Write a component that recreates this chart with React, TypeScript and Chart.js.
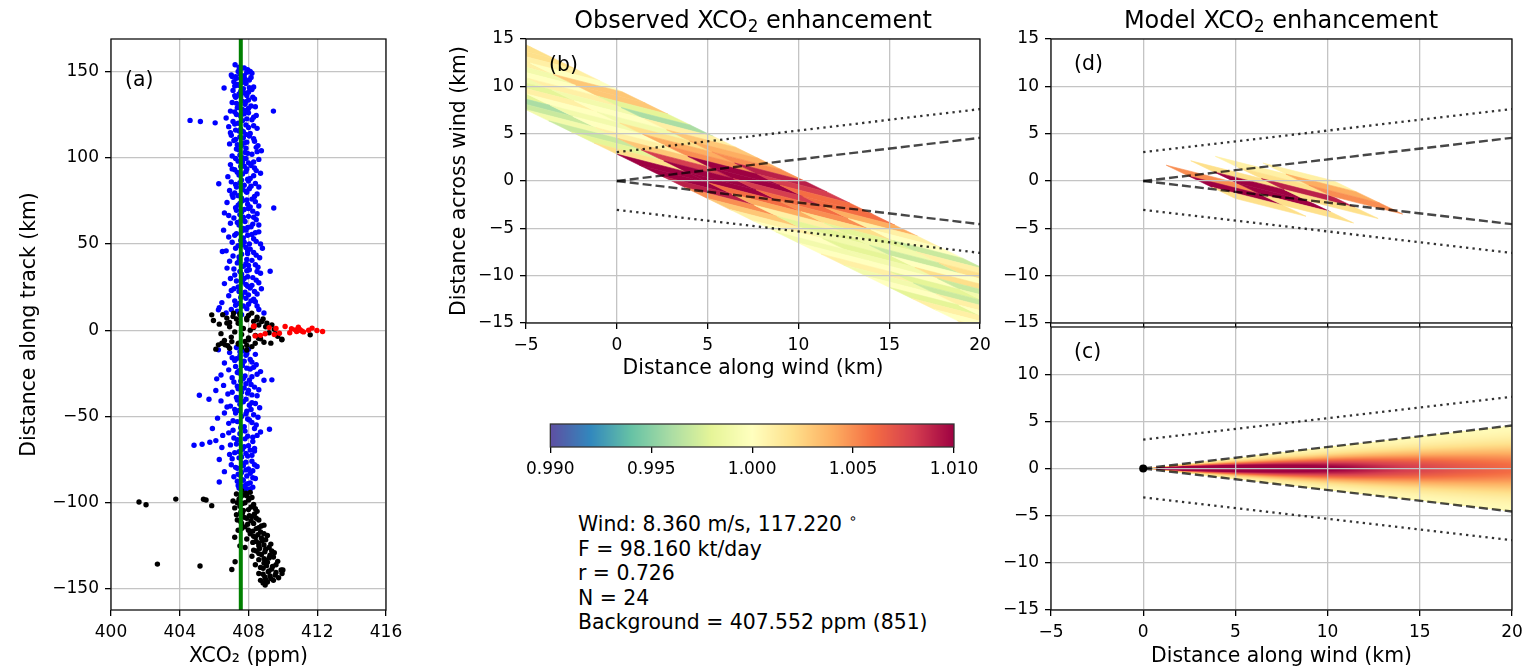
import React, { useEffect, useRef } from "react";
import { Chart, registerables } from "chart.js";

Chart.register(...registerables);

const FONT = "'DejaVu Sans', 'Liberation Sans', sans-serif";
Chart.defaults.font.family = FONT;
Chart.defaults.color = "#000";

// ---------------- Panel (a): XCO2 along track ----------------
const A_X_MIN = 400;
const A_X_MAX = 416;
const A_Y_MIN = -162.2;
const A_Y_MAX = 168.8;
const A_X_TICKS = [400, 404, 408, 412, 416];
const A_Y_TICKS = [-150, -100, -50, 0, 50, 100, 150];
const BACKGROUND_XCO2 = 407.552;

// [XCO2 (ppm), distance along track (km)]
const BLUE_PTS: [number, number][] = [
  [407.22, 153.9], [407.6, 152], [407.95, 151], [407.4, 150], [408.2, 149], [407.0, 148], [407.75, 147.5], [407.3, 146],
  [407.55, 146], [408.05, 145], [407.15, 144], [407.85, 143], [407.4, 142], [408.3, 141], [406.58, 140.4], [407.7, 140],
  [407.1, 139], [408.0, 138], [407.45, 137], [407.9, 136], [407.25, 135], [408.35, 134], [407.6, 133], [407.05, 132],
  [407.8, 131], [408.15, 130], [407.35, 129], [407.65, 128], [409.45, 127], [406.95, 127], [408.0, 126], [407.3, 125],
  [407.55, 124], [406.7, 123], [408.2, 122], [404.6, 121.6], [405.2, 121], [406.06, 120.2], [407.4, 120], [407.85, 119],
  [406.85, 118], [408.5, 117], [407.25, 116], [407.7, 115], [408.1, 114], [407.0, 113], [407.5, 112], [408.3, 111],
  [407.15, 110], [407.9, 109], [406.9, 108], [407.6, 107], [408.45, 106], [407.3, 105], [408.75, 104], [407.8, 103],
  [408.2, 102], [407.05, 101], [407.65, 100], [408.6, 99], [407.4, 98], [408.0, 97], [406.95, 96], [407.55, 95],
  [408.35, 94], [407.2, 93], [407.85, 92], [408.7, 91], [407.45, 90], [406.8, 89], [408.1, 88], [407.6, 87],
  [407.0, 86], [406.27, 84.9], [408.4, 85], [407.75, 84], [407.3, 83], [408.05, 82], [406.9, 81], [407.9, 80],
  [408.5, 79], [407.4, 78], [407.1, 77], [408.2, 76], [407.65, 75], [406.75, 74], [407.95, 73], [408.6, 72],
  [407.25, 71], [409.47, 70.8], [407.75, 70], [408.25, 69], [406.6, 68], [407.5, 67], [408.0, 66], [407.15, 65],
  [408.45, 64], [407.8, 63], [406.95, 62], [407.45, 61], [408.15, 60], [407.7, 59], [406.55, 58], [408.6, 57],
  [407.3, 56], [407.95, 55], [406.85, 54], [408.3, 53], [407.55, 52], [407.05, 51], [408.05, 50], [407.4, 49],
  [408.81, 47.5], [407.85, 48], [406.7, 46], [406.48, 45.6], [408.3, 45], [407.6, 44], [407.1, 43], [408.65, 42],
  [407.9, 41], [406.9, 40], [407.35, 39], [408.4, 38], [407.7, 37], [406.75, 36], [408.05, 35], [409.26, 34.2],
  [407.5, 34], [408.7, 33], [407.2, 32], [407.95, 31], [406.95, 30], [408.45, 29], [407.65, 28], [406.6, 27],
  [408.2, 26], [407.4, 25], [408.75, 24], [407.0, 23], [407.8, 22], [408.5, 21], [406.85, 20], [407.55, 19],
  [408.3, 18], [407.2, 17], [406.45, 16], [408.0, 15], [407.7, 14], [406.3, 13], [408.6, 12], [407.35, 11],
  [406.25, 11.8], [406.7, 10], [408.9, 10], [407.6, 9],
  [407.75, 152], [408.1, 150], [407.5, 148.5], [407.05, 147], [407.8, 145.5], [407.6, 143.5], [407.2, 141.5], [408.2, 139.5],
  [407.75, 137.5], [407.55, 135.5], [408.0, 133.5], [407.3, 131.5], [408.4, 129.5], [407.9, 127.5], [407.75, 125.5], [408.3, 123.5],
  [407.65, 121.5], [407.2, 119.5], [408.0, 117.5], [407.45, 115.5], [407.85, 113.5], [407.7, 111.5], [408.35, 109.5], [407.35, 107.5],
  [407.85, 105.5], [408.5, 103.5], [407.5, 101.5], [407.85, 99.5], [407.65, 97.5], [408.15, 95.5], [407.9, 93.5], [407.35, 91.5],
  [408.3, 89.5], [407.95, 87.5], [407.5, 85.5], [408.15, 83.5], [407.65, 81.5], [407.2, 79.5], [408.35, 77.5], [407.9, 75.5],
  [407.5, 73.5], [408.1, 71.5], [407.3, 69.5], [408.5, 67.5], [407.7, 65.5], [407.55, 63.5], [408.25, 61.5], [407.95, 59.5],
  [407.6, 57.5], [408.2, 55.5], [407.7, 53.5], [408.45, 51.5], [407.65, 49.5], [408.1, 47], [407.95, 44.5], [407.45, 42.5],
  [408.2, 40.5], [407.85, 38.5], [408.55, 36.5], [407.9, 34.5], [407.6, 32.5], [408.25, 30.5], [407.3, 28.5], [407.85, 26.5],
  [408.1, 24.5], [407.45, 22.5], [408.0, 20.5], [407.85, 18.5], [408.4, 16.5], [407.25, 14.5],
  [407.45, 152.5], [407.9, 149.5], [407.25, 147], [408.15, 146.5], [407.65, 144.5], [407.35, 142.5], [408.05, 140.5], [407.55, 138.5],
  [407.2, 136], [408.25, 135], [407.85, 132.5], [407.45, 130.5], [408.0, 128.5], [407.2, 126.5], [408.45, 124.5], [407.9, 122.5],
  [407.1, 121], [408.3, 118.5], [407.55, 116.5], [406.95, 114.5], [408.05, 112.5], [407.25, 110.5], [407.75, 108.5], [408.55, 107],
  [407.45, 104.5], [407.95, 102.5], [407.25, 99.5], [408.3, 97.5], [407.75, 95], [407.05, 93.5], [408.45, 92.5], [407.65, 90.5],
  [408.0, 86.5], [407.25, 84.5], [408.6, 83], [407.85, 80.5], [407.05, 78.5], [407.6, 76.5], [408.4, 74.5], [407.4, 72.5],
  [408.0, 70.5], [407.6, 68.5], [406.85, 66.5], [408.3, 65.5], [407.35, 62.5], [408.6, 61], [407.85, 58], [407.2, 55],
  [408.4, 56.5], [407.75, 51], [408.7, 50], [407.25, 47.5], [407.95, 46], [408.45, 43.5], [407.45, 40], [408.0, 37.5],
  [407.15, 35.5], [408.5, 34], [407.75, 30], [408.6, 27.5], [407.95, 25.5], [407.15, 24], [408.35, 22.5], [407.6, 20],
  [408.15, 17], [407.45, 15.5], [408.5, 14], [407.9, 12.5], [407.0, 12],
  [407.3, -10], [406.25, -11.4], [408.0, -11], [407.7, -12], [406.9, -13], [408.4, -14], [407.5, -15], [407.05, -16],
  [408.1, -17], [407.75, -18], [406.6, -19], [408.45, -20], [407.25, -21], [407.9, -22], [406.85, -23], [408.7, -24],
  [407.5, -25], [406.4, -26], [408.2, -27], [406.15, -28.2], [409.36, -28.8], [407.7, -28], [408.9, -29], [407.15, -30],
  [407.85, -31], [406.55, -32], [408.35, -33], [407.4, -34], [406.1, -35], [408.0, -35], [407.6, -36], [405.14, -37.7],
  [406.8, -37], [408.5, -38], [407.3, -39], [405.7, -40], [407.85, -40], [406.4, -41], [408.2, -42], [407.5, -43],
  [406.95, -44], [408.65, -45], [407.2, -46], [407.9, -47], [406.6, -48], [408.3, -49], [407.6, -50], [406.2, -51],
  [408.05, -52], [407.35, -53], [406.85, -54], [408.45, -55], [407.75, -56], [409.22, -57.4], [405.9, -57], [407.1, -58],
  [408.7, -59], [407.5, -60], [406.5, -61], [408.25, -62], [407.8, -63], [406.1, -64], [405.75, -65], [405.3, -66.1],
  [404.83, -66.7], [407.3, -66], [408.0, -67], [406.45, -68], [407.65, -69], [408.35, -70], [407.2, -71], [406.9, -72],
  [407.95, -73], [407.45, -74], [406.3, -75], [408.2, -76], [407.6, -77], [407.0, -78], [408.5, -79], [407.35, -80],
  [407.85, -81], [406.6, -82], [408.1, -83], [407.5, -84], [407.15, -85], [408.4, -86], [407.7, -87], [406.3, -88],
  [407.95, -89], [407.4, -90], [408.25, -91], [407.85, -92], [407.6, -93],
  [407.5, -12.5], [407.85, -14.5], [407.3, -16.5], [408.2, -18.5], [407.65, -20.5], [408.1, -22.5], [407.35, -24.5], [407.8, -26.5],
  [407.55, -29.5], [408.15, -31.5], [407.75, -33.5], [407.95, -36.5], [407.55, -38.5], [407.7, -41.5], [408.05, -43.5], [407.45, -46.5],
  [407.85, -48.5], [407.95, -51.5], [408.2, -53.5], [407.55, -56.5], [407.8, -58.5], [407.95, -61.5], [407.35, -63.5], [407.75, -67.5],
  [408.1, -69.5], [407.85, -71.5], [407.6, -73.5], [407.85, -76.5], [407.7, -78.5], [408.0, -80.5], [407.6, -82.5], [407.9, -84.5],
  [407.6, -86.5], [408.1, -88.5], [407.75, -90.5],
  [407.9, -13.5], [407.2, -17.5], [408.3, -21.5], [407.45, -23.5], [408.5, -25.5], [407.05, -27.5], [408.05, -29], [407.35, -32.5],
  [408.6, -34.5], [407.05, -36], [408.2, -37.5], [407.35, -40.5], [408.4, -42.5], [406.75, -44.5], [408.15, -46], [407.25, -48],
  [408.55, -50.5], [407.1, -52.5], [408.35, -57], [406.85, -59.5], [408.5, -61], [407.15, -62.5], [408.25, -64.5], [406.95, -66.5],
  [408.35, -68.5], [407.45, -70.5], [408.2, -72.5], [407.05, -74.5], [408.35, -78], [407.25, -79.5], [408.25, -81.5], [407.4, -83.5],
  [408.25, -85.5], [407.35, -87.5], [407.85, -89.5], [408.1, -92], [407.45, -91.5],
];

const BLACK_PTS: [number, number][] = [
  [405.86, 8.9], [405.96, 5.6], [406.74, 7.0], [407.13, 9.9], [406.74, 4.1], [407.51, 8.9], [407.9, 7.0], [408.19, 9.9],
  [408.48, 6.0], [408.77, 5.0], [409.07, 4.1], [409.36, 3.1], [406.5, 9], [407.1, 8], [407.9, 6], [408.3, 5], [407.4, 4],
  [408.6, 3], [409.0, 2], [406.9, 2], [407.7, 1], [409.5, 0.5], [408.1, 0], [407.2, -1], [409.2, -1.5], [406.4, -2],
  [411.59, -2.7], [408.4, -3], [409.7, -3.5], [407.0, -4], [409.94, -5.2], [408.7, -5], [406.6, -6], [407.8, -6.5],
  [408.9, -7], [406.45, -7.6], [406.64, -8.5], [407.03, -6.6], [407.42, -7.6], [408.0, -5.6], [408.39, -7.6], [408.58, -4.7],
  [409.94, -5.6], [406.25, -8.5], [407.4, -8], [406.8, -9], [408.2, -9.5], [407.6, -10], [406.1, -11], [406.3, 3.5],
  [408.85, 6.5], [406.9, 4.5], [408.3, 1.5], [407.6, -2.5], [408.0, -4.5], [409.3, -7.5], [407.9, -11.5], [407.5, 9.5],
  [408.0, 8.5], [407.3, 6.5], [408.5, 7.5], [409.6, -2.2], [407.9, -8.8], [406.9, -10.5],
  [401.63, -99.6], [402.04, -101.2], [403.77, -97.9], [405.38, -98], [405.53, -98.4], [405.86, -101.7], [402.7, -135.6],
  [405.18, -136.7], [407.03, -138.7], [407.22, -134.2],
  [407.6, -93], [408.1, -94], [407.3, -95], [407.9, -96], [408.2, -97], [407.45, -98], [407.1, -99], [407.8, -100],
  [408.3, -101], [407.5, -102], [407.2, -103], [408.0, -104], [408.5, -105], [407.65, -106], [407.3, -107], [408.2, -108],
  [407.9, -109], [408.6, -110], [407.55, -111], [408.3, -112], [408.9, -113], [407.8, -114], [408.45, -115], [407.4, -116],
  [408.7, -117], [408.1, -118], [409.1, -119], [408.4, -120], [407.9, -121], [408.8, -122], [408.25, -123], [409.3, -124],
  [408.6, -125], [407.8, -126], [409.0, -127], [408.45, -128], [409.5, -129], [408.75, -130], [408.2, -131], [409.2, -132],
  [408.6, -133], [409.7, -134], [408.9, -135], [408.4, -136], [409.4, -137], [408.85, -138], [409.9, -139], [409.15, -140],
  [408.6, -141], [409.55, -142], [408.95, -143], [409.3, -144], [408.7, -145], [409.1, -146], [408.97, -147.7], [407.5, -125],
  [407.2, -120], [407.6, -115], [407.35, -110],
  [407.85, -94.5], [407.55, -96.5], [408.0, -98.5], [407.65, -100.5], [408.15, -102.5], [407.7, -104.5], [408.35, -106.5],
  [407.75, -108.5], [408.15, -110.5], [407.95, -112.5], [408.6, -114.5], [408.25, -116.5], [408.55, -118.5], [408.75, -120.5],
  [408.45, -122.5], [408.9, -124.5], [408.65, -126.5], [408.95, -128.5], [409.25, -130.5], [408.9, -132.5], [409.1, -134.5],
  [409.05, -136.5], [409.35, -138.5], [409.6, -140.5], [409.25, -142.5], [409.0, -144.5], [410.0, -139], [409.95, -141],
  [407.7, -95.5], [408.05, -97.5], [407.35, -100], [408.4, -103.5], [407.55, -105.5], [408.05, -107.5], [408.45, -109],
  [407.6, -112], [408.75, -113.5], [408.0, -116], [408.9, -118], [408.3, -119.5], [409.0, -121.5], [408.6, -123.5],
  [409.2, -126], [408.3, -127.5], [409.35, -128], [408.6, -129.5], [409.45, -131.5], [409.0, -133.5], [408.7, -137.5],
  [409.6, -136], [409.2, -139.5], [408.85, -141.5], [409.75, -143.5], [409.45, -145], [408.85, -146.5],
];

const RED_PTS: [number, number][] = [
  [408.33, 2.5], [408.29, 2.1], [410.13, 2.1], [409.2, 1.5], [409.6, 1], [410.5, 0.8], [410.72, 0.2], [410.95, 0.5],
  [411.98, -0.2], [412.31, -0.8], [410.8, -0.8], [411.1, -0.5], [411.5, 0], [411.7, 1.2], [410.4, -1.5], [408.97, -2.1],
  [408.39, -3.3], [409.5, -2.5], [409.8, -1.8], [408.7, -3], [410.9, 1.8], [410.85, -0.3], [411.0, 0.3], [411.2, -1],
];

// ---------------- Panels (b), (c), (d): wind-rotated frame ----------------
const W_X_MIN = -5;
const W_X_MAX = 20;
const W_Y_MIN = -15;
const W_Y_MAX = 15;
const W_X_TICKS = [-5, 0, 5, 10, 15, 20];
const W_Y_TICKS = [-15, -10, -5, 0, 5, 10, 15];
const W_Y_TICKS_LOWER = [-15, -10, -5, 0, 5, 10];
const PLUME_END_X = 20;
const PLUME_HALF_SLOPE = 0.228; // dashed cone half-width per km
const OUTER_OFFSET = 3.05; // dotted lines offset at source (km)
const OUTER_SLOPE = 0.2275;

// Sounding footprint lattice (row = along track, col = across track)
const LATTICE_X0 = -21.25;
const LATTICE_Y0 = 22.7725;
const ROW_STEP_X = 1.25;
const ROW_STEP_Y = -1.1725;
const COL_STEP_X = 3.83;
const COL_STEP_Y = -1.877;

// Observed enhancement per footprint, in units of 0.001 (ratio - 1) * 1000
const OBS_ENH: number[][] = [
  [0, 0, 1, 2], [0, 0, 1, 2], [0, 0, 1, 2], [0, 1, 2, 1], [0, 0, 1, 0], [0, 0, -1, 3], [-1, 1, 0, 3],
  [-3, -1, 1, -2], [-2, -2, -1, -4], [0, 1, 0, 1], [-2, 0, -1, 3], [-4, -1, 2, 4], [-3, 0, 4, 5],
  [-1, 1, 5, 9], [-3, 3, 10, 8], [-2, 8, 10, 6], [2, 10, 8, 6], [10, 10, 6, 4], [11, 6, 5, 1],
  [9, 4, 2, 0], [5, 1, -2, -3], [3, -2, -1, 1], [1, -1, -3, 2], [0, -2, 0, 0], [-1, -1, 2, -1],
  [0, 0, -3, 0], [1, -2, -1, 0], [-1, -3, 0, 0], [0, 1, 0, 0], [-2, 0, 0, 0], [1, 0, 0, 0],
  [0, 0, 0, 0], [1, 0, 0, 0],
];

// Model enhancement at the in-plume footprints
const MODEL_ROW = [18, 19, 20, 16, 17, 18, 19, 14, 15, 16, 17, 13, 14, 15];
const MODEL_COL = [0, 0, 0, 1, 1, 1, 1, 2, 2, 2, 2, 3, 3, 3];
const MODEL_ENH = [5, 10, 2, 2, 10, 10, 2, 1, 2, 9, 2, 1, 4, 5];

// Model plume (c): centreline enhancement (×0.001) and cross-plume profile
const PLUME_X = [0, 0.5, 1, 2, 3, 4, 5, 6, 7, 8, 9, 10, 11, 12, 13, 14, 15, 16, 17, 18, 19, 20];
const PLUME_CENTER = [30, 30, 25, 20, 17, 15, 14, 13, 12.3, 11.6, 11, 10.5, 10, 9.4, 8.8, 8.3, 7.9, 7.5, 7.1, 6.8, 6.5, 6.2];
const PROFILE_U = [0, 0.1, 0.2, 0.3, 0.4, 0.5, 0.6, 0.7, 0.8, 0.9, 1.0];
const PROFILE_SHAPE = [1, 0.96, 0.86, 0.72, 0.56, 0.41, 0.28, 0.18, 0.11, 0.06, 0.035];

// Colour bar
const CBAR_MIN = 0.99;
const CBAR_MAX = 1.01;
const CBAR_TICKS = [0.99, 0.995, 1.0, 1.005, 1.01];
const SPECTRAL_R = ["#5e4fa2", "#3288bd", "#66c2a5", "#abdda4", "#e6f598", "#ffffbf", "#fee08b", "#fdae61", "#f46d43", "#d53e4f", "#9e0142"];

const INFO_LINES = [
  "Wind: 8.360 m/s, 117.220",
  "F = 98.160 kt/day",
  "r = 0.726",
  "N = 24",
  "Background = 407.552 ppm (851)",
];

// ---------------- helpers ----------------
const CMAP_RGB = SPECTRAL_R.map((h) => [parseInt(h.slice(1, 3), 16), parseInt(h.slice(3, 5), 16), parseInt(h.slice(5, 7), 16)]);
function cmap(ratio: number): [number, number, number] {
  let t = (ratio - CBAR_MIN) / (CBAR_MAX - CBAR_MIN);
  t = Math.max(0, Math.min(1, t));
  const s = t * (CMAP_RGB.length - 1);
  const k = Math.min(CMAP_RGB.length - 2, Math.floor(s));
  const f = s - k;
  const a = CMAP_RGB[k], b = CMAP_RGB[k + 1];
  return [a[0] + (b[0] - a[0]) * f, a[1] + (b[1] - a[1]) * f, a[2] + (b[2] - a[2]) * f];
}
function rgb(c: [number, number, number]) {
  return `rgb(${Math.round(c[0])},${Math.round(c[1])},${Math.round(c[2])})`;
}
function interp(xs: number[], ys: number[], x: number) {
  if (x <= xs[0]) return ys[0];
  for (let i = 1; i < xs.length; i++) {
    if (x <= xs[i]) {
      const f = (x - xs[i - 1]) / (xs[i] - xs[i - 1]);
      return ys[i - 1] + (ys[i] - ys[i - 1]) * f;
    }
  }
  return ys[ys.length - 1];
}
const fmtMinus = (v: number) => (v < 0 ? "\u2212" : "") + String(Math.abs(v));

const GRID_COLOR = "#c4c4c4";

function axis(o: {
  min: number; max: number; ticks: number[]; size: (s: any) => void; labels?: boolean;
  title?: string; titlePad?: any; fmt?: (v: number) => string; onArea?: boolean;
}) {
  return {
    type: "linear",
    min: o.min,
    max: o.max,
    afterBuildTicks: (s: any) => { s.ticks = o.ticks.map((v) => ({ value: v })); },
    afterFit: o.size,
    ticks: {
      display: o.labels !== false,
      font: { size: 17, family: FONT },
      color: "#000",
      padding: 6,
      maxRotation: 0,
      minRotation: 0,
      autoSkip: false,
      callback: (v: any) => (o.fmt || fmtMinus)(Number(v)),
    },
    grid: {
      color: GRID_COLOR, lineWidth: 1.3, drawTicks: true, tickLength: 6, tickColor: "#000", tickWidth: 1.3,
      drawOnChartArea: o.onArea !== false,
    },
    border: { display: false },
    title: o.title
      ? { display: true, text: o.title, color: "#000", font: { size: 20.4, family: FONT }, padding: o.titlePad }
      : { display: false },
  };
}

function framePlugin(letter: string, dx: number, dy: number, under?: (chart: any) => void, boxColor = "#111") {
  return {
    id: "frame",
    beforeDraw(chart: any) {
      if (under) under(chart);
    },
    afterDraw(chart: any) {
      const { ctx, chartArea: ca } = chart;
      ctx.save();
      ctx.strokeStyle = boxColor;
      ctx.lineWidth = 1.3;
      ctx.strokeRect(ca.left, ca.top, ca.right - ca.left, ca.bottom - ca.top);
      if (letter) {
        ctx.fillStyle = "#000";
        ctx.font = `20.4px ${FONT}`;
        ctx.textAlign = "left";
        ctx.textBaseline = "alphabetic";
        ctx.fillText(letter, ca.left + dx, ca.top + dy);
      }
      ctx.restore();
    },
  };
}

function drawCells(chart: any, cells: { i: number; j: number; v: number }[]) {
  const { ctx, chartArea: ca, scales } = chart;
  const xs = scales.x, ys = scales.y;
  ctx.save();
  ctx.beginPath();
  ctx.rect(ca.left, ca.top, ca.right - ca.left, ca.bottom - ca.top);
  ctx.clip();
  ctx.lineJoin = "round";
  ctx.lineWidth = 0.6;
  for (const c of cells) {
    const qx = LATTICE_X0 + c.i * ROW_STEP_X + c.j * COL_STEP_X;
    const qy = LATTICE_Y0 + c.i * ROW_STEP_Y + c.j * COL_STEP_Y;
    const pts = [
      [qx, qy],
      [qx + ROW_STEP_X, qy + ROW_STEP_Y],
      [qx + ROW_STEP_X + COL_STEP_X, qy + ROW_STEP_Y + COL_STEP_Y],
      [qx + COL_STEP_X, qy + COL_STEP_Y],
    ];
    const col = rgb(cmap(1 + c.v / 1000));
    ctx.fillStyle = col;
    ctx.strokeStyle = col;
    ctx.beginPath();
    pts.forEach(([x, y], k) => {
      const px = xs.getPixelForValue(x), py = ys.getPixelForValue(y);
      if (k === 0) ctx.moveTo(px, py); else ctx.lineTo(px, py);
    });
    ctx.closePath();
    ctx.fill();
    ctx.stroke();
  }
  ctx.restore();
}

const OBS_CELLS = OBS_ENH.flatMap((row, i) => row.map((v, j) => ({ i, j, v })));
const MODEL_CELLS = MODEL_ROW.map((i, k) => ({ i, j: MODEL_COL[k], v: MODEL_ENH[k] }));

function drawPlume(chart: any) {
  const { ctx, chartArea: ca, scales } = chart;
  const xs = scales.x, ys = scales.y;
  const w = Math.round(ca.right - ca.left), h = Math.round(ca.bottom - ca.top);
  const off = document.createElement("canvas");
  off.width = w;
  off.height = h;
  const octx = off.getContext("2d")!;
  const img = octx.createImageData(w, h);
  for (let py = 0; py < h; py++) {
    const yv = ys.getValueForPixel(ca.top + py + 0.5);
    for (let px = 0; px < w; px++) {
      const xv = xs.getValueForPixel(ca.left + px + 0.5);
      if (xv <= 0 || xv > PLUME_END_X) continue;
      const hw = PLUME_HALF_SLOPE * xv;
      const u = Math.abs(yv) / hw;
      if (u > 1) continue;
      const v = interp(PLUME_X, PLUME_CENTER, xv) * interp(PROFILE_U, PROFILE_SHAPE, u);
      const c = cmap(1 + v / 1000);
      const idx = (py * w + px) * 4;
      img.data[idx] = c[0];
      img.data[idx + 1] = c[1];
      img.data[idx + 2] = c[2];
      img.data[idx + 3] = 255;
    }
  }
  octx.putImageData(img, 0, 0);
  ctx.drawImage(off, ca.left, ca.top);
}

function plumeLines(withSource: boolean) {
  const dash = { showLine: true, borderColor: "rgba(0,0,0,0.72)", borderWidth: 2.4, borderDash: [9, 4], pointRadius: 0, fill: false };
  const dot = { showLine: true, borderColor: "rgba(0,0,0,0.8)", borderWidth: 2.3, borderDash: [2.3, 4.2], pointRadius: 0, fill: false };
  const ds: any[] = [
    { ...dash, data: [{ x: 0, y: 0 }, { x: PLUME_END_X, y: PLUME_HALF_SLOPE * PLUME_END_X }] },
    { ...dash, data: [{ x: 0, y: 0 }, { x: PLUME_END_X, y: -PLUME_HALF_SLOPE * PLUME_END_X }] },
    { ...dot, data: [{ x: 0, y: OUTER_OFFSET }, { x: PLUME_END_X, y: OUTER_OFFSET + OUTER_SLOPE * PLUME_END_X }] },
    { ...dot, data: [{ x: 0, y: -OUTER_OFFSET }, { x: PLUME_END_X, y: -OUTER_OFFSET - OUTER_SLOPE * PLUME_END_X }] },
  ];
  if (withSource) {
    ds.unshift({ data: [{ x: 0, y: 0 }], pointRadius: 4, backgroundColor: "#000", borderColor: "#000", borderWidth: 0, showLine: false });
  }
  return ds;
}

const commonOpts = {
  animation: false,
  responsive: false,
  events: [],
  plugins: { legend: { display: false }, tooltip: { enabled: false }, title: { display: false } },
};

// ---------------- chart builders ----------------
function makeA(canvas: HTMLCanvasElement) {
  const pts = (arr: [number, number][]) => arr.map(([x, y]) => ({ x, y }));
  const dot = { borderWidth: 0, pointRadius: 2.7, showLine: false };
  return new Chart(canvas, {
    type: "scatter",
    data: {
      datasets: [
        { data: [{ x: BACKGROUND_XCO2, y: A_Y_MIN }, { x: BACKGROUND_XCO2, y: A_Y_MAX }], showLine: true, borderColor: "#008000", borderWidth: 4, pointRadius: 0, order: -1 },
        { ...dot, data: pts(RED_PTS), backgroundColor: "#ff0000", borderColor: "#ff0000", order: 0 },
        { ...dot, data: pts(BLACK_PTS), backgroundColor: "#000000", borderColor: "#000000", order: 1 },
        { ...dot, data: pts(BLUE_PTS), backgroundColor: "#0000ff", borderColor: "#0000ff", order: 2 },
      ],
    } as any,
    options: {
      ...commonOpts,
      layout: { padding: { left: 0, top: 39, right: 24, bottom: 0 } },
      scales: {
        x: axis({ min: A_X_MIN, max: A_X_MAX, ticks: A_X_TICKS, size: (s) => { s.height = 61; }, title: "XCO\u2082 (ppm)", titlePad: { top: 0, bottom: 2 } }),
        y: axis({ min: A_Y_MIN, max: A_Y_MAX, ticks: A_Y_TICKS, size: (s) => { s.width = 111; }, title: "Distance along track (km)", titlePad: { top: 17, bottom: 0 } }),
      },
    } as any,
    plugins: [framePlugin("(a)", 14, 46.6)],
  });
}

function makeB(canvas: HTMLCanvasElement) {
  return new Chart(canvas, {
    type: "scatter",
    data: { datasets: plumeLines(false) } as any,
    options: {
      ...commonOpts,
      layout: { padding: { left: 0, top: 39, right: 20, bottom: 17 } },
      scales: {
        x: axis({ min: W_X_MIN, max: W_X_MAX, ticks: W_X_TICKS, size: (s) => { s.height = 60; }, title: "Distance along wind (km)", titlePad: { top: 0, bottom: 1.8 } }),
        y: axis({ min: W_Y_MIN, max: W_Y_MAX, ticks: W_Y_TICKS, size: (s) => { s.width = 86; }, title: "Distance across wind (km)", titlePad: { top: 7.4, bottom: 0 } }),
      },
    } as any,
    plugins: [framePlugin("(b)", 23, 31.5, (c) => drawCells(c, OBS_CELLS))],
  });
}

function makeD(canvas: HTMLCanvasElement) {
  return new Chart(canvas, {
    type: "scatter",
    data: { datasets: plumeLines(false) } as any,
    options: {
      ...commonOpts,
      layout: { padding: { left: 0, top: 39, right: 20, bottom: 11 } },
      scales: {
        x: axis({ min: W_X_MIN, max: W_X_MAX, ticks: W_X_TICKS, size: (s) => { s.height = 6; }, labels: false }),
        y: axis({ min: W_Y_MIN, max: W_Y_MAX, ticks: W_Y_TICKS, size: (s) => { s.width = 61; } }),
      },
    } as any,
    plugins: [framePlugin("(d)", 23, 31, (c) => drawCells(c, MODEL_CELLS))],
  });
}

function makeC(canvas: HTMLCanvasElement) {
  return new Chart(canvas, {
    type: "scatter",
    data: { datasets: plumeLines(true) } as any,
    options: {
      ...commonOpts,
      layout: { padding: { left: 0, top: 27, right: 20, bottom: 0 } },
      scales: {
        x: axis({ min: W_X_MIN, max: W_X_MAX, ticks: W_X_TICKS, size: (s) => { s.height = 61; }, title: "Distance along wind (km)", titlePad: { top: 0, bottom: 1.8 } }),
        y: axis({ min: W_Y_MIN, max: W_Y_MAX, ticks: W_Y_TICKS_LOWER, size: (s) => { s.width = 61; } }),
      },
    } as any,
    plugins: [framePlugin("(c)", 23, 30.5, drawPlume)],
  });
}

function makeCbar(canvas: HTMLCanvasElement) {
  const paint = (chart: any) => {
    const { ctx, chartArea: ca, scales } = chart;
    const xs = scales.x;
    for (let px = Math.floor(ca.left); px < Math.ceil(ca.right); px++) {
      const v = xs.getValueForPixel(px + 0.5);
      ctx.fillStyle = rgb(cmap(v));
      ctx.fillRect(px, ca.top, 1, ca.bottom - ca.top);
    }
  };
  return new Chart(canvas, {
    type: "scatter",
    data: { datasets: [] },
    options: {
      ...commonOpts,
      layout: { padding: { left: 29, top: 14, right: 36, bottom: 10 } },
      scales: {
        x: axis({ min: CBAR_MIN, max: CBAR_MAX, ticks: CBAR_TICKS, size: (s) => { s.height = 33; }, fmt: (v) => v.toFixed(3), onArea: false }),
        y: { type: "linear", display: false, min: 0, max: 1 },
      },
    } as any,
    plugins: [framePlugin("", 0, 0, paint, "#333")],
  });
}

function ChartBox(props: { left: number; top: number; width: number; height: number; make: (c: HTMLCanvasElement) => Chart }) {
  const ref = useRef<HTMLCanvasElement>(null);
  useEffect(() => {
    const chart = props.make(ref.current!);
    return () => chart.destroy();
  }, []);
  return (
    <canvas
      ref={ref}
      width={props.width}
      height={props.height}
      style={{ position: "absolute", left: props.left, top: props.top, width: props.width, height: props.height }}
    />
  );
}

const subStyle: React.CSSProperties = { fontSize: "70%", verticalAlign: "-0.22em", lineHeight: 0 };

export default function App() {
  return (
    <div style={{ position: "absolute", left: 0, top: 0, width: 1532, height: 671, background: "#fff", overflow: "hidden", fontFamily: FONT, color: "#000" }}>
      <ChartBox left={0} top={0} width={410} height={671} make={makeA} />
      <ChartBox left={440} top={0} width={560} height={400} make={makeB} />
      <ChartBox left={990} top={0} width={542} height={340} make={makeD} />
      <ChartBox left={990} top={300} width={542} height={371} make={makeC} />
      <ChartBox left={520} top={410} width={470} height={80} make={makeCbar} />
      <div style={{ position: "absolute", left: 453, width: 600, top: 8, textAlign: "center", fontSize: 24, lineHeight: "24px", whiteSpace: "nowrap" }}>
        Observed XCO<sub style={subStyle}>2</sub> enhancement
      </div>
      <div style={{ position: "absolute", left: 981, width: 600, top: 8, textAlign: "center", fontSize: 24, lineHeight: "24px", whiteSpace: "nowrap" }}>
        Model XCO<sub style={subStyle}>2</sub> enhancement
      </div>
      <div style={{ position: "absolute", left: 578, top: 512, fontSize: 20.4, lineHeight: "24.5px", whiteSpace: "nowrap" }}>
        {INFO_LINES.map((t, k) => (
          <div key={k}>
            {t}
            {k === 0 ? (
              <>
                {" "}
                <span style={{ fontSize: "70%", verticalAlign: "0.55em", lineHeight: 0 }}>{"\u2218"}</span>
              </>
            ) : null}
          </div>
        ))}
      </div>
    </div>
  );
}
